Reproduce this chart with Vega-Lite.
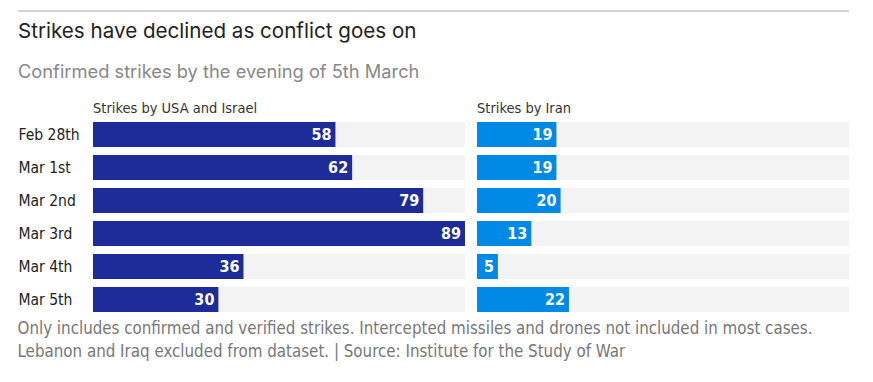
{
  "$schema": "https://vega.github.io/schema/vega-lite/v6.json",
  "padding": {"left": 17, "top": 10, "right": 24, "bottom": 4},
  "background": "white",
  "config": {
    "view": {"stroke": null},
    "font": "DejaVu Sans Condensed",
    "concat": {"spacing": 12}
  },
  "datasets": {
    "strikes": [
      {"date": "Feb 28th", "usa": 58, "iran": 19},
      {"date": "Mar 1st", "usa": 62, "iran": 19},
      {"date": "Mar 2nd", "usa": 79, "iran": 20},
      {"date": "Mar 3rd", "usa": 89, "iran": 13},
      {"date": "Mar 4th", "usa": 36, "iran": 5},
      {"date": "Mar 5th", "usa": 30, "iran": 22}
    ]
  },
  "title": {
    "text": ["Only includes confirmed and verified strikes. Intercepted missiles and drones not included in most cases.", "Lebanon and Iraq excluded from dataset. | Source: Institute for the Study of War"],
    "orient": "bottom",
    "anchor": "start",
    "font": "DejaVu Sans Condensed",
    "fontSize": 16.8,
    "fontWeight": "normal",
    "color": "#777777",
    "lineHeight": 23,
    "offset": 5
  },
  "spacing": -10,
  "vconcat": [
    {
      "width": 831,
      "height": 0,
      "data": {"values": [{}]},
      "mark": {"type": "rule", "color": "#aaaaaa", "strokeWidth": 1},
      "encoding": {"y": {"value": 0}, "x": {"value": -75}, "x2": {"value": 756}}
    },
    {
      "title": {
        "text": "Strikes have declined as conflict goes on",
        "subtitle": "Confirmed strikes by the evening of 5th March",
        "anchor": "start",
        "font": "Inter",
        "fontSize": 20.6,
        "fontWeight": "normal",
        "color": "#222222",
        "subtitleFont": "Inter",
        "subtitleFontSize": 18.3,
        "subtitleColor": "#888888",
        "subtitlePadding": 22,
        "offset": 19
      },
      "spacing": 12,
      "hconcat": [
        {
          "width": 372,
          "height": 198,
          "data": {"name": "strikes"},
          "title": {"text": "Strikes by USA and Israel", "anchor": "start", "frame": "group", "font": "DejaVu Sans Condensed", "fontSize": 14.5, "fontWeight": "normal", "color": "#333333", "offset": 2},
          "encoding": {
            "y": {
              "field": "date", "type": "nominal", "sort": null,
              "scale": {"paddingInner": 0.24, "paddingOuter": 0.12},
              "axis": {"title": null, "domain": false, "ticks": false, "tickSize": 0, "labelAlign": "left", "labelPadding": 75, "labelFont": "DejaVu Sans Condensed", "labelFontSize": 15.5, "labelColor": "#222222"}
            }
          },
          "layer": [
            {"mark": {"type": "bar", "color": "#f3f3f3"}, "encoding": {"x": {"datum": 89, "type": "quantitative", "scale": {"domain": [0, 89]}, "axis": null}}},
            {"mark": {"type": "bar", "color": "#1d2c98"}, "encoding": {"x": {"field": "usa", "type": "quantitative", "scale": {"domain": [0, 89]}, "axis": null}}},
            {"mark": {"type": "text", "align": "right", "dx": -4, "color": "white", "font": "DejaVu Sans Condensed", "fontSize": 16, "fontWeight": "bold"}, "encoding": {"x": {"field": "usa", "type": "quantitative", "scale": {"domain": [0, 89]}, "axis": null}, "text": {"field": "usa"}}}
          ]
        },
        {
          "width": 372,
          "height": 198,
          "data": {"name": "strikes"},
          "title": {"text": "Strikes by Iran", "anchor": "start", "frame": "group", "font": "DejaVu Sans Condensed", "fontSize": 14.5, "fontWeight": "normal", "color": "#333333", "offset": 2},
          "encoding": {
            "y": {
              "field": "date", "type": "nominal", "sort": null,
              "scale": {"paddingInner": 0.24, "paddingOuter": 0.12},
              "axis": null
            }
          },
          "layer": [
            {"mark": {"type": "bar", "color": "#f3f3f3"}, "encoding": {"x": {"datum": 89, "type": "quantitative", "scale": {"domain": [0, 89]}, "axis": null}}},
            {"mark": {"type": "bar", "color": "#008ae6"}, "encoding": {"x": {"field": "iran", "type": "quantitative", "scale": {"domain": [0, 89]}, "axis": null}}},
            {"mark": {"type": "text", "align": "right", "dx": -4, "color": "white", "font": "DejaVu Sans Condensed", "fontSize": 16, "fontWeight": "bold"}, "encoding": {"x": {"field": "iran", "type": "quantitative", "scale": {"domain": [0, 89]}, "axis": null}, "text": {"field": "iran"}}}
          ]
        }
      ]
    }
  ]
}
